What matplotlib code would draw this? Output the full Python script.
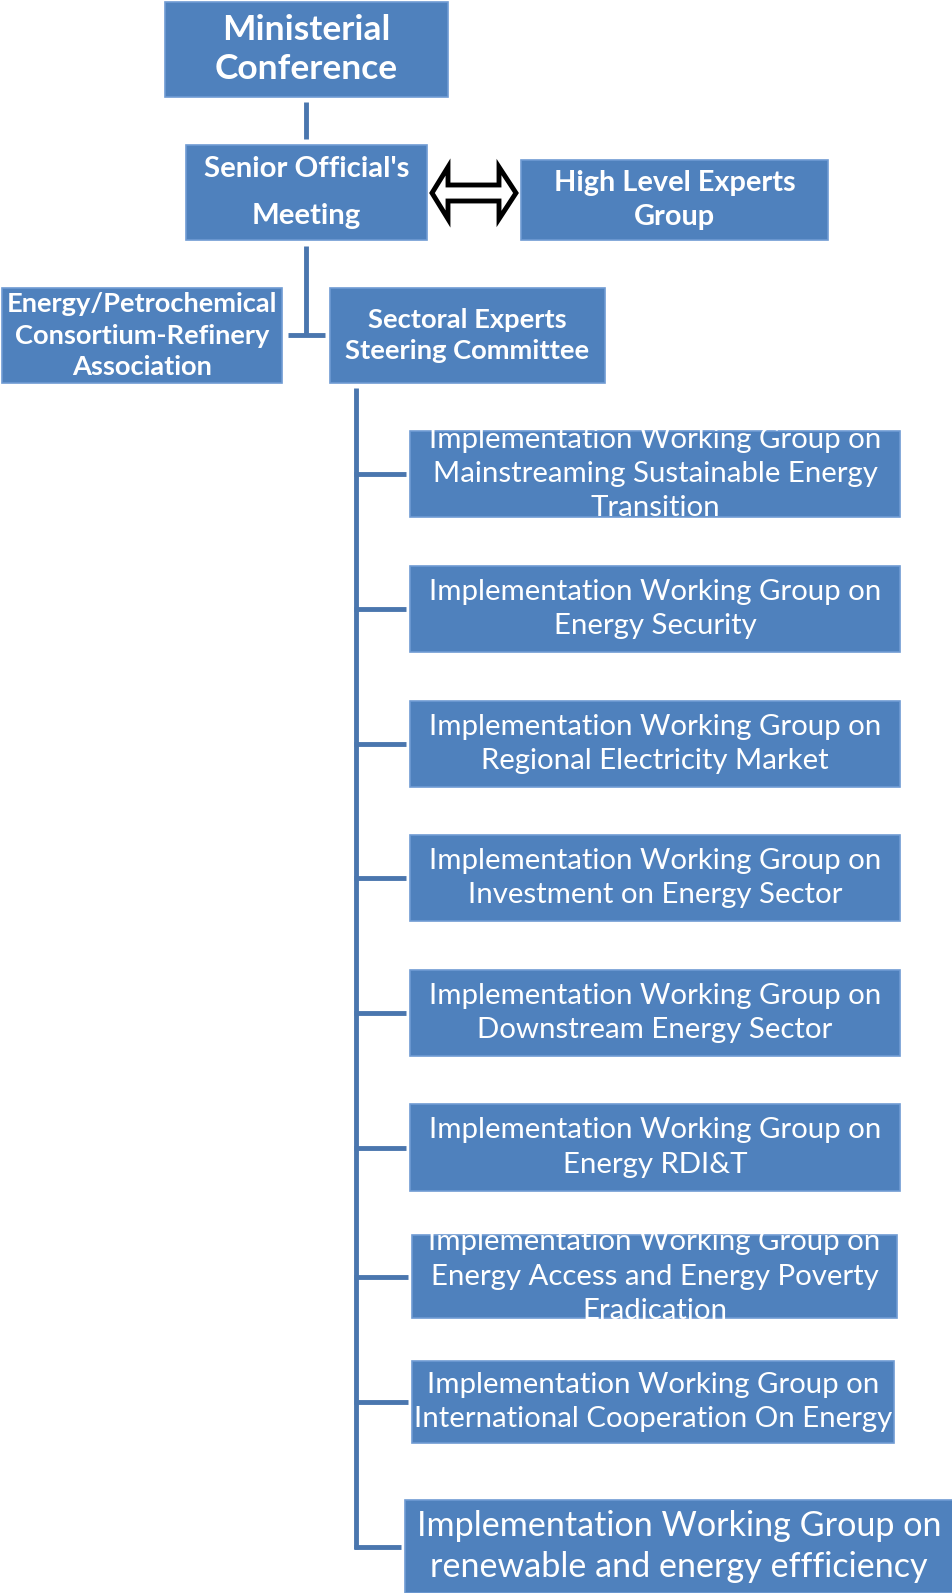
import matplotlib
matplotlib.use("Agg")
import matplotlib.pyplot as plt
from matplotlib.patches import Rectangle, Polygon

# --- chart content ---
top_labels = ["Ministerial\nConference", "Senior Official's\nMeeting", "High Level Experts\nGroup"]
side_labels = ["Energy/Petrochemical\nConsortium-Refinery\nAssociation", "Sectoral Experts\nSteering Committee"]
wg_labels = [
    "Implementation Working Group on\nMainstreaming Sustainable Energy\nTransition",
    "Implementation Working Group on\nEnergy Security",
    "Implementation Working Group on\nRegional Electricity Market",
    "Implementation Working Group on\nInvestment on Energy Sector",
    "Implementation Working Group on\nDownstream Energy Sector",
    "Implementation Working Group on\nEnergy RDI&T",
    "Implementation Working Group on\nEnergy Access and Energy Poverty\nEradication",
    "Implementation Working Group on\nInternational Cooperation On Energy",
    "Implementation Working Group on\nrenewable and energy effficiency",
]

# layout (pixels, y down)
W, H = 953, 1593
FILL = "#4F81BD"
EDGE = "#6F9BD3"
LINE = "#4A76AE"

wg_boxes = [
    (410, 431, 490, 86),
    (410, 566, 490, 86),
    (410, 701, 490, 86),
    (410, 835, 490, 86),
    (410, 970, 490, 86),
    (410, 1104, 490, 87),
    (412, 1235, 485, 83),
    (412, 1361, 482, 82),
    (405, 1500, 548, 93),
]
wg_sizes = [21.2, 21.2, 21.2, 21.2, 21.2, 21.2, 21.2, 21.2, 24.6]
wg_spacing = [1.39, 1.39, 1.39, 1.39, 1.39, 1.39, 1.39, 1.39, 1.31]

fig = plt.figure(figsize=(W / 100, H / 100), dpi=100)
ax = fig.add_axes([0, 0, 1, 1])
ax.set_xlim(0, W)
ax.set_ylim(H, 0)
ax.axis("off")

bold_fam = ["Lato", "DejaVu Sans"]
reg_fam = ["Lato", "DejaVu Sans"]


def box(x, y, w, h, label, size, family, weight="normal", spacing=1.2, clip=False):
    r = Rectangle((x, y), w, h, facecolor=FILL, edgecolor=EDGE, lw=1.2, zorder=2)
    ax.add_patch(r)
    t = ax.text(x + w / 2, y + h / 2, label, ha="center", va="center", color="white",
                fontsize=size, family=family, weight=weight, linespacing=spacing, zorder=3)
    if clip:
        t.set_clip_path(r)
    return r


def line(xs, ys):
    ax.plot(xs, ys, color=LINE, lw=3.5, solid_capstyle="butt", zorder=1)


# top section
box(165, 2, 283, 95, top_labels[0], 25.5, bold_fam, "bold", 1.29)
line([306, 306], [102, 139])
box(186, 145, 241, 95, top_labels[1], 21.2, bold_fam, "bold", 2.03)
box(521, 160, 307, 80, top_labels[2], 20.8, bold_fam, "bold", 1.41)

# double arrow between Senior Official's and High Level Experts
cy = 193
arrow_pts = [(432, cy), (448, 167), (448, 185), (499, 185), (499, 167), (516, cy),
             (499, 219), (499, 201), (448, 201), (448, 219)]
ax.add_patch(Polygon(arrow_pts, closed=True, facecolor="white", edgecolor="black", lw=3.5,
                     joinstyle="miter", zorder=3))

# senior -> tee between side boxes
line([306, 306], [246, 335])
line([288, 325], [335, 335])
box(2, 288, 280, 95, side_labels[0], 19.6, bold_fam, "bold", 1.36)
box(330, 288, 275, 95, side_labels[1], 19.7, bold_fam, "bold", 1.38)

# trunk and working-group branches
trunk_x = 356
branch_y = [y + h / 2 for (x, y, w, h) in wg_boxes[:-1]] + [1547]
line([trunk_x, trunk_x], [388, branch_y[-1] + 1.75])
for (x, y, w, h), by in zip(wg_boxes, branch_y):
    line([trunk_x - 1.75, x - 4], [by, by])

for i, ((x, y, w, h), lab) in enumerate(zip(wg_boxes, wg_labels)):
    box(x, y, w, h, lab, wg_sizes[i], reg_fam, "normal", wg_spacing[i], clip=True)

fig.savefig("out.png", dpi=100)
